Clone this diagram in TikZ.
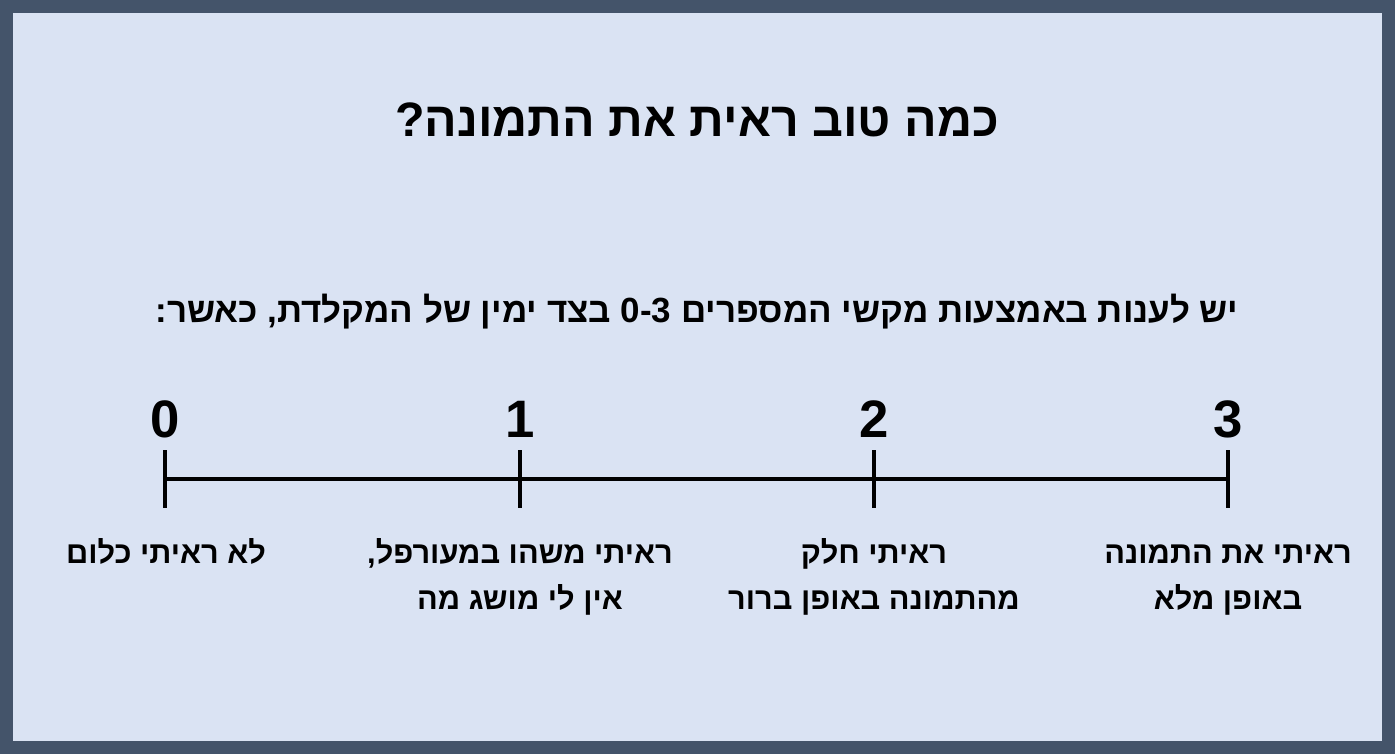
\documentclass[tikz,border=0pt]{standalone}
\usepackage{fontspec}
\usepackage{tikz}
\usetikzlibrary{positioning}
\TeXXeTstate=1
\newfontfamily\hebfont[Script=Hebrew]{Liberation Sans}
\definecolor{frame}{HTML}{44546A}
\definecolor{paper}{HTML}{DAE3F3}
\definecolor{ink}{HTML}{000000}

\begin{document}
\begin{tikzpicture}[x=0.02cm,y=-0.02cm,
  ttl/.style={font=\hebfont\bfseries\fontsize{27.5}{32}\selectfont,text=ink,inner sep=0pt},
  instr/.style={font=\hebfont\bfseries\fontsize{19.9}{24}\selectfont,text=ink,inner sep=0pt},
  num/.style={font=\hebfont\bfseries\fontsize{30}{34}\selectfont,text=ink,inner sep=0pt},
  lbl/.style={font=\hebfont\bfseries\fontsize{17.5}{26}\selectfont,text=ink,align=center,inner sep=0pt,anchor=north},
  axis/.style={line width=2.4pt,ink}]
  % frame
  \fill[frame] (0,0) rectangle (1395,754);
  \fill[paper] (13,13) rectangle (1382,741);
  \useasboundingbox (0,0) rectangle (1395,754);
  % texts on top
  \node[ttl] (title) at (697,120) {\beginR כמה טוב ראית את התמונה?\endR};
  \node[instr] (sub) at (697,312) {\beginR יש לענות באמצעות מקשי המספרים \beginL 0-3\endL{} בצד ימין של המקלדת, כאשר:\endR};
  % scale
  \coordinate (t0) at (165,479);
  \coordinate (t1) at (520,479);
  \coordinate (t2) at (874,479);
  \coordinate (t3) at (1228,479);
  \draw[axis] (t0) -- (t3);
  \draw[axis] (t0) ++(0,-29) -- ++(0,58);
  \draw[axis] (t1) ++(0,-29) -- ++(0,58);
  \draw[axis] (t2) ++(0,-29) -- ++(0,58);
  \draw[axis] (t3) ++(0,-29) -- ++(0,58);
  \node[num] (n0) at (165,419) {0};
  \node[num] (n1) at (520,419) {1};
  \node[num] (n2) at (874,419) {2};
  \node[num] (n3) at (1228,419) {3};
  \node[lbl] (l0) at (166,531) {\strut\beginR לא ראיתי כלום\endR};
  \node[lbl] (l1) at (520,531) {\strut\beginR ראיתי משהו במעורפל,\endR\\\strut\beginR אין לי מושג מה\endR};
  \node[lbl] (l2) at (874,531) {\strut\beginR ראיתי חלק\endR\\\strut\beginR מהתמונה באופן ברור\endR};
  \node[lbl] (l3) at (1228,531) {\strut\beginR ראיתי את התמונה\endR\\\strut\beginR באופן מלא\endR};
\end{tikzpicture}
\end{document}
